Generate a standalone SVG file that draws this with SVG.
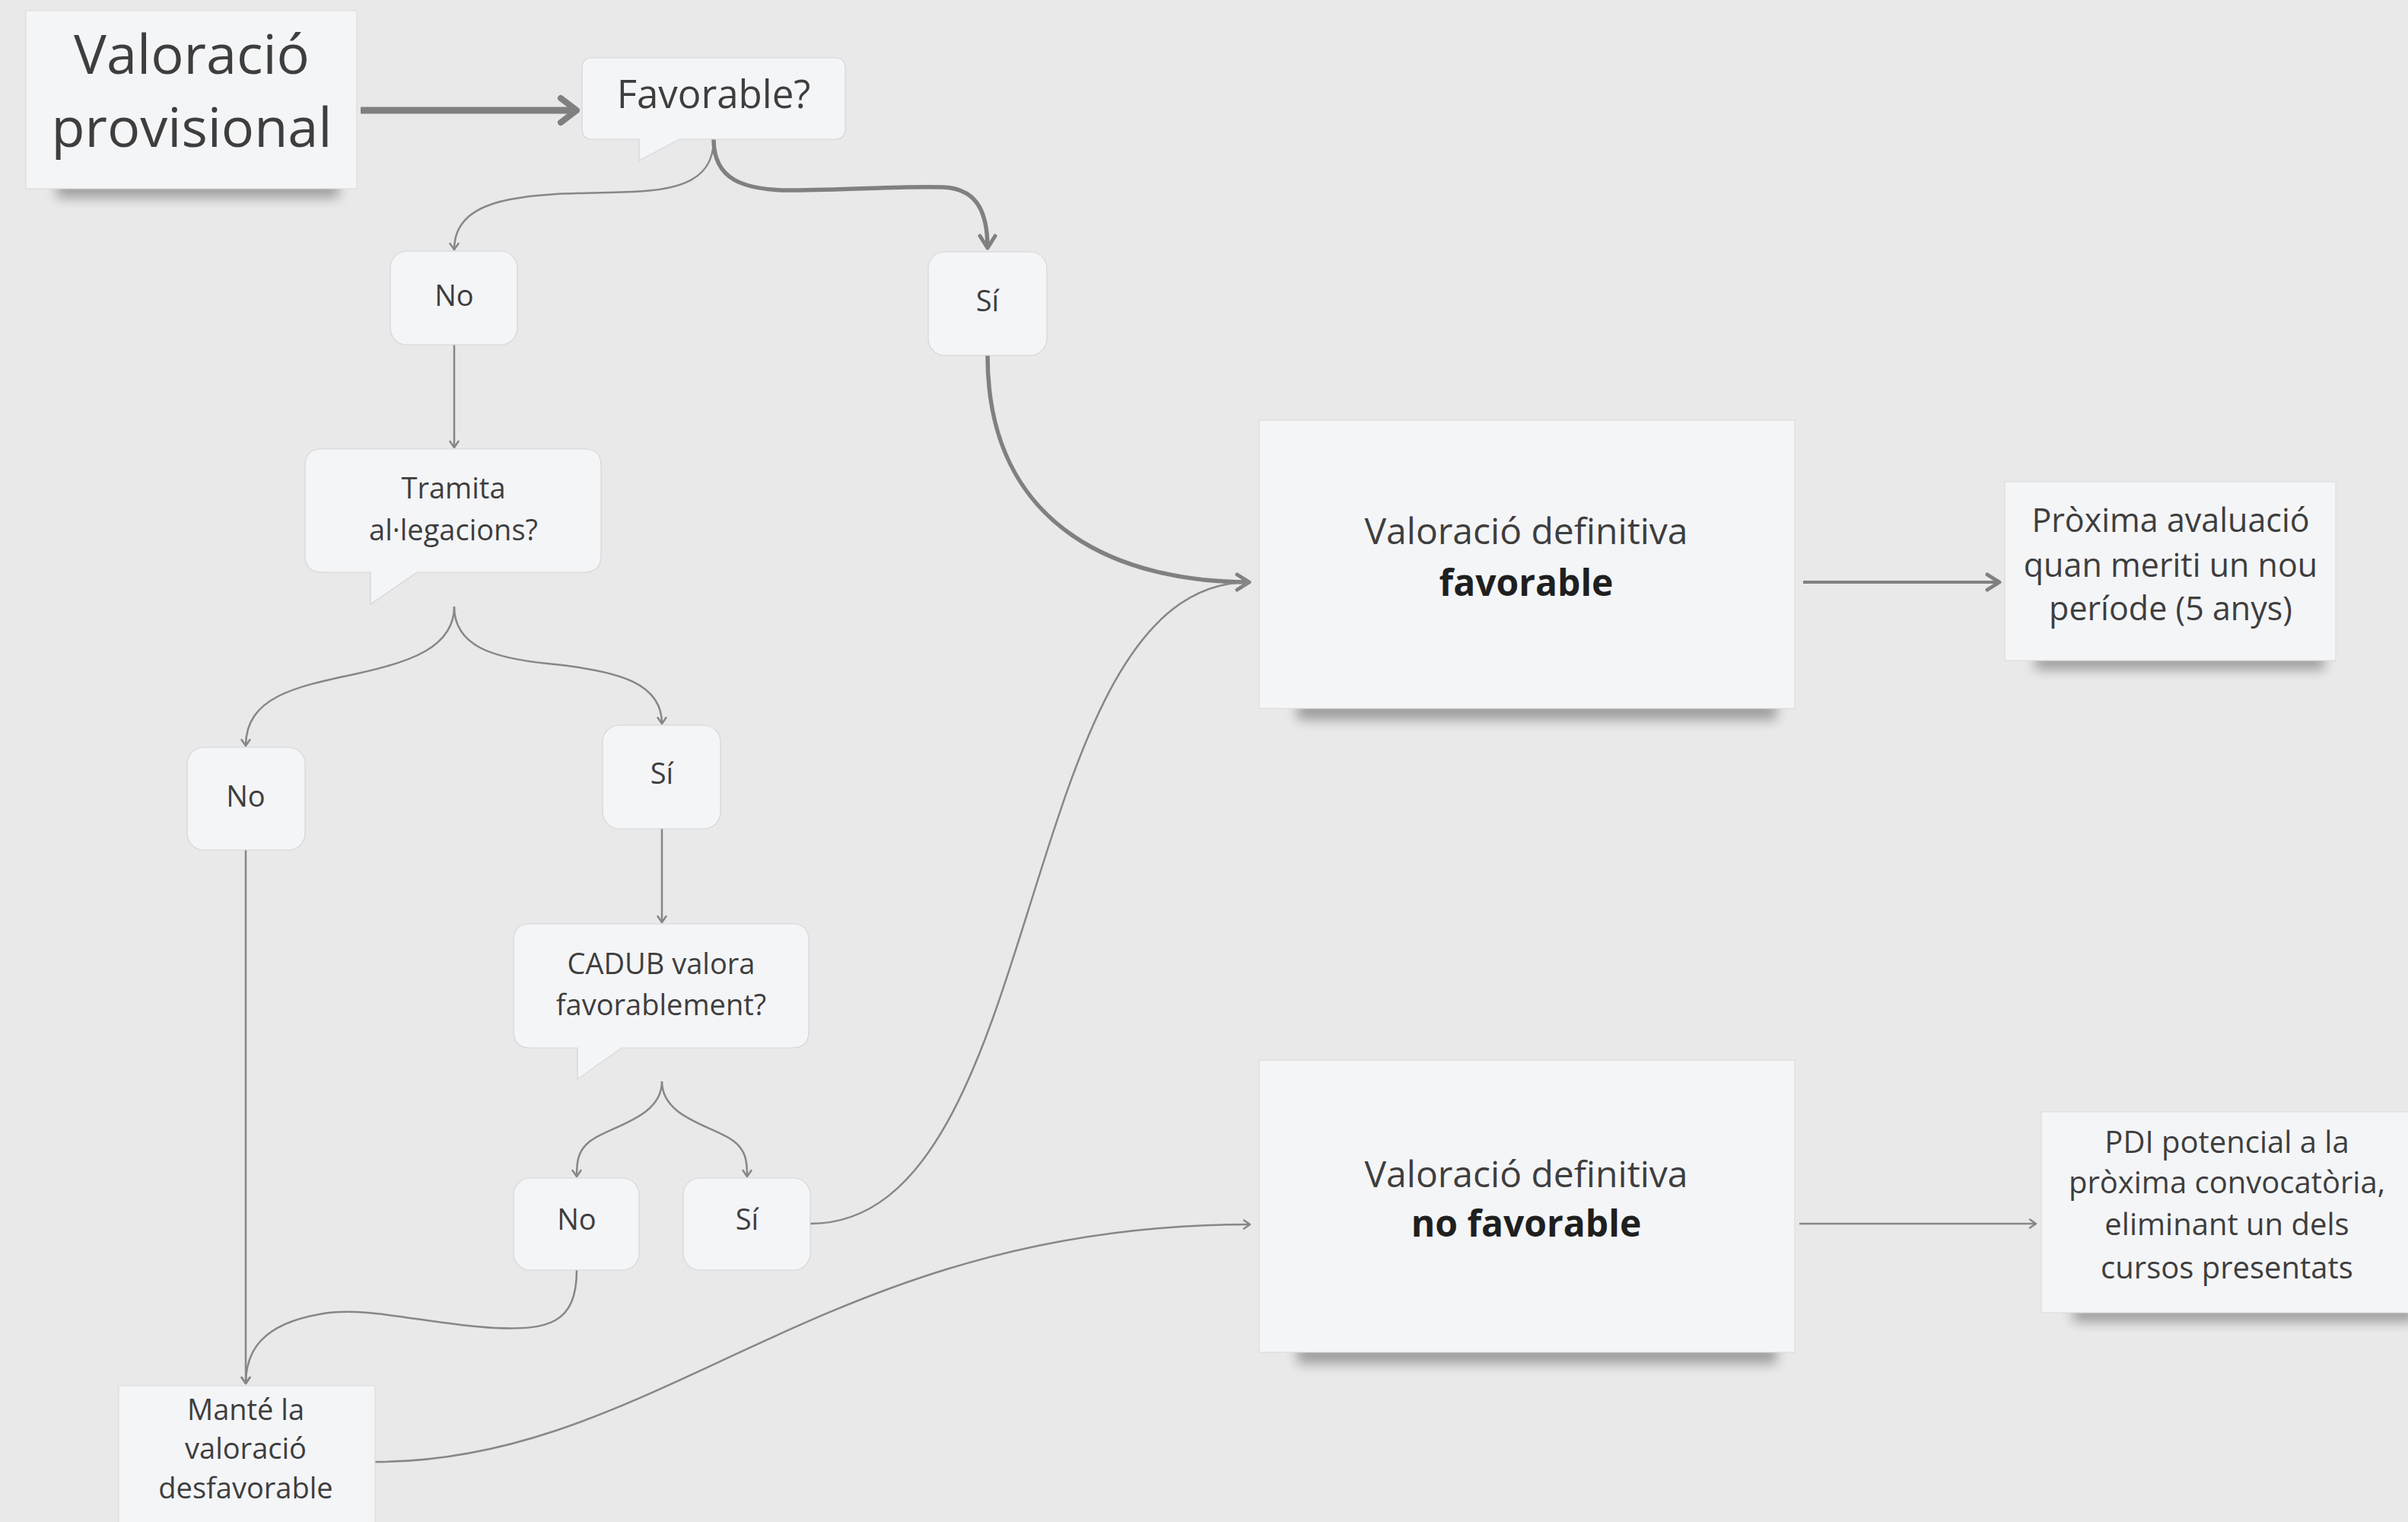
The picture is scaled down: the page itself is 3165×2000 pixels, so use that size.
<svg xmlns="http://www.w3.org/2000/svg" width="3165" height="2000" viewBox="0 0 3165 2000">
<defs>
<style>
.bg{fill:#e9e9e9}
.box{fill:#f4f5f7;stroke:#d4d6da;stroke-width:1.2}
.note{fill:#f4f5f7;stroke:#d9d9d9;stroke-width:1}
.shadow{fill:#000;opacity:0.32;filter:url(#blur)}
.t{font-family:"Open Sans","Noto Sans","Liberation Sans",sans-serif;fill:#3e3e3e;text-anchor:middle}
.s{font-size:38px}
.m{font-size:43px}
.l{font-size:48px}
.b{font-weight:bold;fill:#1f1f1f}
.c{fill:none;stroke:#878787;stroke-linecap:butt}
.thin{stroke-width:2.5;marker-end:url(#aS)}
.thick{stroke-width:5.5;marker-end:url(#aM);stroke:#808080}
.fat{stroke-width:9;marker-end:url(#aL);stroke:#808080}
</style>
<filter id="blur" x="-20%" y="-300%" width="140%" height="700%"><feGaussianBlur stdDeviation="8"/></filter>
<marker id="aS" markerUnits="userSpaceOnUse" viewBox="-14 -10 17 20" markerWidth="17" markerHeight="20" refX="0" refY="0" orient="auto"><path d="M-8,-5.5 L0,0 L-8,5.5" fill="none" stroke="#878787" stroke-width="2.5" stroke-linecap="round" stroke-linejoin="round"/></marker>
<marker id="aM" markerUnits="userSpaceOnUse" viewBox="-22 -15 26 30" markerWidth="26" markerHeight="30" refX="0" refY="0" orient="auto"><path d="M-16,-10 L0,0 L-16,10" fill="none" stroke="#808080" stroke-width="5" stroke-linecap="round" stroke-linejoin="round"/></marker>
<marker id="aL" markerUnits="userSpaceOnUse" viewBox="-30 -24 36 48" markerWidth="36" markerHeight="48" refX="0" refY="0" orient="auto"><path d="M-21,-16 L0,0 L-21,16" fill="none" stroke="#808080" stroke-width="8" stroke-linecap="round" stroke-linejoin="round"/></marker>
</defs>
<rect class="bg" x="0" y="0" width="3165" height="2000"/>

<g id="connectors">
<path id="c1" class="c fat" d="M474,145 L758,145"/>
<path id="c2" class="c thin" d="M938,183 C938,245 880,252 800,253 C690,255 597,258 597,328"/>
<path id="c3" class="c thick" d="M938,183 C938,235 975,250 1040,250 C1120,250 1180,244 1240,246 C1285,248 1298,280 1298,326"/>
<path id="c4" class="c thick" d="M1298,467 C1298,700 1480,765 1642,765"/>
<path id="c5" class="c thin" d="M597,453 L597,588"/>
<path id="c6" class="c thin" d="M597,797 C597,850 540,870 470,885 C390,902 323,915 323,980"/>
<path id="c7" class="c thin" d="M597,797 C597,850 650,865 720,872 C820,882 870,900 870,951"/>
<path id="c8" class="c thin" d="M870,1089 L870,1212"/>
<path id="c9" class="c thin" d="M870,1421 C870,1470 800,1480 775,1500 C760,1512 758,1525 758,1546"/>
<path id="c10" class="c thin" d="M870,1421 C870,1470 940,1480 965,1500 C980,1512 982,1525 982,1546"/>
<path id="c11" class="c thin" d="M323,1117 L323,1818"/>
<path id="c12" class="c thin" d="M758,1669 C758,1740 720,1748 650,1745 C560,1740 480,1715 420,1727 C345,1740 323,1775 323,1818"/>
<path id="c13" class="c thin" d="M1065,1608 C1380,1608 1330,765 1642,765"/>
<path id="c14" class="c thin" d="M493,1921 C870,1921 1080,1609 1643,1609"/>
<path id="c15" class="c thick" style="stroke-width:4" d="M2370,765 L2628,765"/>
<path id="c16" class="c thin" d="M2365,1608 L2676,1608"/>
</g>

<g id="prov">
<rect class="shadow" x="75" y="236" width="370" height="24"/>
<rect class="note" x="34" y="14" width="435" height="234"/>
<text class="t" style="font-size:72px" x="252" y="97">Valoració</text>
<text class="t" style="font-size:72px" x="252" y="193">provisional</text>
</g>

<g id="favq">
<path class="box" d="M779,76 H1097 Q1111,76 1111,90 V169 Q1111,183 1097,183 H893 L840,211 V183 H779 Q765,183 765,169 V90 Q765,76 779,76 Z"/>
<text class="t" style="font-size:51px" x="938" y="142">Favorable?</text>
</g>

<g id="no1">
<rect class="box" x="513" y="330" width="167" height="123" rx="22"/>
<text class="t s" x="597" y="402">No</text>
</g>

<g id="si1">
<rect class="box" x="1220" y="331" width="156" height="136" rx="22"/>
<text class="t s" x="1298" y="409">Sí</text>
</g>

<g id="tramita">
<path class="box" d="M423,590 H768 Q790,590 790,612 V730 Q790,752 768,752 H548 L487,794 V752 H423 Q401,752 401,730 V612 Q401,590 423,590 Z"/>
<text class="t s" x="596" y="655">Tramita</text>
<text class="t s" x="596" y="710">al·legacions?</text>
</g>

<g id="no2">
<rect class="box" x="246" y="982" width="155" height="135" rx="22"/>
<text class="t s" x="323" y="1060">No</text>
</g>

<g id="si2">
<rect class="box" x="792" y="953" width="155" height="136" rx="22"/>
<text class="t s" x="870" y="1030">Sí</text>
</g>

<g id="cadub">
<path class="box" d="M697,1214 H1041 Q1063,1214 1063,1236 V1355 Q1063,1377 1041,1377 H817 L759,1418 V1377 H697 Q675,1377 675,1355 V1236 Q675,1214 697,1214 Z"/>
<text class="t s" x="869" y="1280">CADUB valora</text>
<text class="t s" x="869" y="1334">favorablement?</text>
</g>

<g id="no3">
<rect class="box" x="675" y="1548" width="165" height="121" rx="22"/>
<text class="t s" x="758" y="1616">No</text>
</g>

<g id="si3">
<rect class="box" x="898" y="1548" width="167" height="121" rx="22"/>
<text class="t s" x="982" y="1616">Sí</text>
</g>

<g id="mante">
<rect class="note" x="156" y="1821" width="337" height="200"/>
<text class="t s" x="323" y="1866">Manté la</text>
<text class="t s" x="323" y="1917">valoració</text>
<text class="t s" x="323" y="1969">desfavorable</text>
</g>

<g id="vdf">
<rect class="shadow" x="1705" y="920" width="630" height="26"/>
<rect class="note" x="1655" y="552" width="704" height="379"/>
<text class="t l" x="2006" y="715">Valoració definitiva</text>
<text class="t l b" x="2006" y="783">favorable</text>
</g>

<g id="vdnf">
<rect class="shadow" x="1705" y="1766" width="630" height="26"/>
<rect class="note" x="1655" y="1393" width="704" height="384"/>
<text class="t l" x="2006" y="1560">Valoració definitiva</text>
<text class="t l b" x="2006" y="1625">no favorable</text>
</g>

<g id="prox">
<rect class="shadow" x="2675" y="858" width="380" height="22"/>
<rect class="note" x="2635" y="633" width="435" height="235"/>
<text class="t m" x="2853" y="699">Pròxima avaluació</text>
<text class="t m" x="2853" y="758">quan meriti un nou</text>
<text class="t m" x="2853" y="815">període (5 anys)</text>
</g>

<g id="pdi">
<rect class="shadow" x="2725" y="1715" width="450" height="22"/>
<rect class="note" x="2683" y="1461" width="492" height="264"/>
<text class="t" style="font-size:40px" x="2927" y="1515">PDI potencial a la</text>
<text class="t" style="font-size:40px" x="2927" y="1568">pròxima convocatòria,</text>
<text class="t" style="font-size:40px" x="2927" y="1623">eliminant un dels</text>
<text class="t" style="font-size:40px" x="2927" y="1680">cursos presentats</text>
</g>
</svg>
